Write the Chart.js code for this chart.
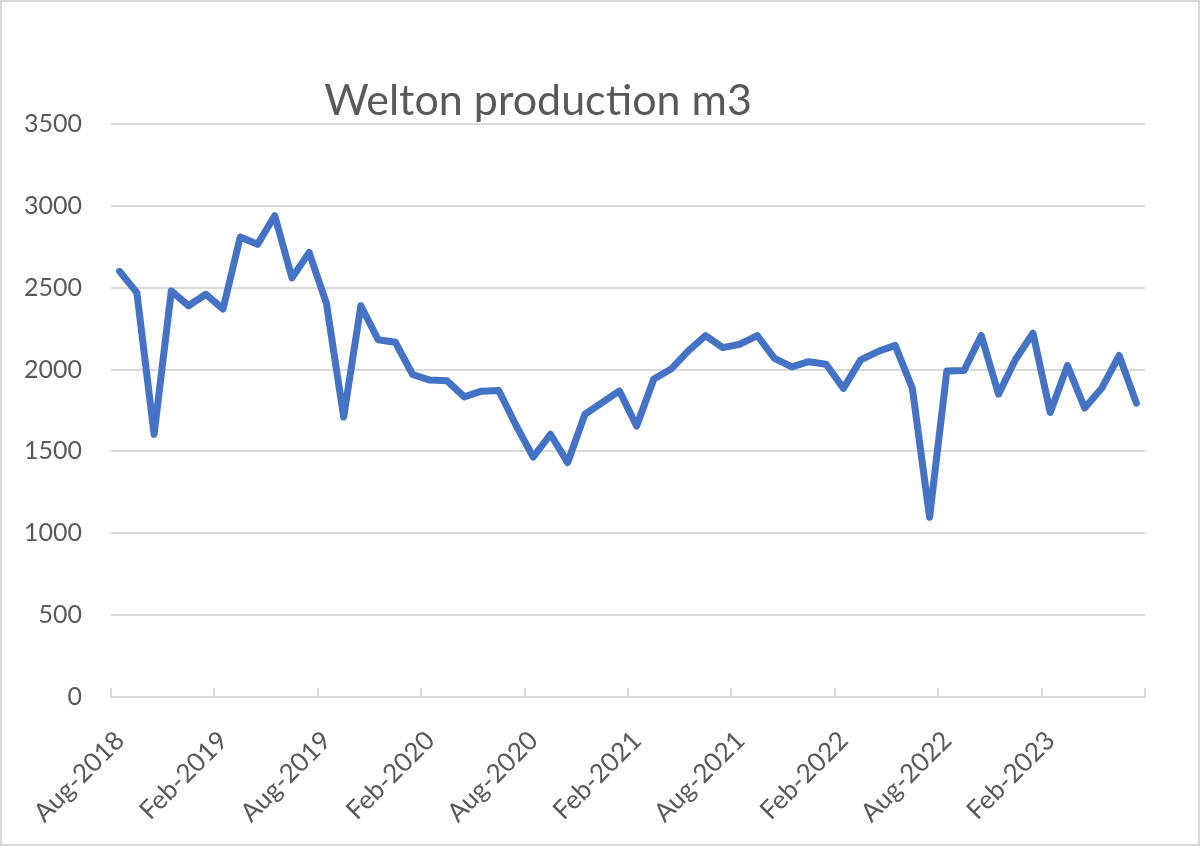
<!DOCTYPE html>
<html>
<head>
<meta charset="utf-8">
<script src="https://cdn.jsdelivr.net/npm/chart.js@4"></script>
<style>
  body { margin: 0; background: #fff; }
  #wrap { position: relative; width: 1200px; height: 846px; }
  #frame { position: absolute; left: 0; top: 0; width: 1200px; height: 846px; box-sizing: border-box; border: 2px solid #d9d9d9; pointer-events: none; }
  canvas { position: absolute; left: 0; top: 0; }
</style>
</head>
<body>
<div id="wrap">
  <canvas id="prodChart" width="1200" height="846"></canvas>
  <div id="frame"></div>
</div>
<script>
const chartTitle = 'Welton production m3';

// monthly production, Aug-2018 .. Jul-2023
const production = [
  2600, 2470, 1605, 2480, 2390, 2460, 2370, 2810, 2765, 2940,
  2560, 2715, 2405, 1710, 2390, 2182, 2167, 1970, 1936, 1931,
  1833, 1868, 1872, 1660, 1465, 1605, 1432, 1727, 1798, 1870,
  1655, 1942, 2003, 2114, 2208, 2134, 2155, 2208, 2068, 2017,
  2048, 2032, 1885, 2059, 2110, 2148, 1886, 1098, 1991, 1995,
  2208, 1850, 2065, 2222, 1738, 2024, 1765, 1888, 2086, 1795
];

// labels every 6 months on the date axis
const xTickLabels = ['Aug-2018', 'Feb-2019', 'Aug-2019', 'Feb-2020', 'Aug-2020',
  'Feb-2021', 'Aug-2021', 'Feb-2022', 'Aug-2022', 'Feb-2023', ''];
const yTicks = [0, 500, 1000, 1500, 2000, 2500, 3000, 3500];

const monthNames = ['Jan','Feb','Mar','Apr','May','Jun','Jul','Aug','Sep','Oct','Nov','Dec'];
let months = [];
for (let i = 0; i < production.length; i++) {
  let m = (7 + i) % 12;
  let y = 2018 + Math.floor((7 + i) / 12);
  months.push(monthNames[m] + '-' + y);
}

// point sits in the middle of its month slot
const points = production.map((v, i) => ({ x: i + 0.5, y: v }));

const textColor = '#595959';
const gridColor = '#d9d9d9';

// Excel style title, placed a bit left of centre
const titlePlugin = {
  id: 'titleAt',
  afterDraw(chart) {
    const ctx = chart.ctx;
    ctx.save();
    ctx.font = '43px Lato';
    ctx.fillStyle = textColor;
    ctx.textAlign = 'center';
    ctx.textBaseline = 'middle';
    ctx.fillText(chartTitle, 538, 101);
    ctx.restore();
  }
};

// tick marks pointing up into the plot, like the original
const innerTicks = {
  id: 'innerTicks',
  afterDraw(chart) {
    const xs = chart.scales.x;
    const ctx = chart.ctx;
    const base = chart.chartArea.bottom;
    ctx.save();
    ctx.strokeStyle = gridColor;
    ctx.lineWidth = 2;
    ctx.beginPath();
    xs.ticks.forEach(t => {
      const px = Math.round(xs.getPixelForValue(t.value));
      ctx.moveTo(px, base);
      ctx.lineTo(px, base - 9);
    });
    ctx.stroke();
    ctx.restore();
  }
};

const ctx = document.getElementById('prodChart').getContext('2d');
let chart = new Chart(ctx, {
  type: 'line',
  data: {
    labels: months,
    datasets: [{
      label: chartTitle,
      data: points,
      borderColor: '#4472C4',
      borderWidth: 7,
      borderJoinStyle: 'round',
      borderCapStyle: 'round',
      pointRadius: 0,
      tension: 0,
      fill: false
    }]
  },
  options: {
    responsive: false,
    animation: false,
    layout: { padding: { top: 124, right: 55, left: 0, bottom: 0 } },
    plugins: {
      legend: { display: false },
      title: { display: false },
      tooltip: { enabled: false }
    },
    scales: {
      x: {
        type: 'linear',
        min: 0,
        max: 60,
        afterBuildTicks: (scale) => {
          scale.ticks = xTickLabels.map((l, i) => ({ value: i * 6 }));
        },
        afterFit: (scale) => {
          scale.height = 846 - 697;
          scale.paddingLeft = 0;
          scale.paddingRight = 0;
        },
        grid: { display: false },
        border: { display: true, color: gridColor, width: 2 },
        ticks: {
          color: textColor,
          font: { family: 'Lato', size: 26 },
          minRotation: 45,
          maxRotation: 45,
          autoSkip: false,
          padding: 20,
          labelOffset: 9,
          callback: (v) => xTickLabels[v / 6]
        }
      },
      y: {
        min: 0,
        max: 3500,
        afterBuildTicks: (scale) => {
          scale.ticks = yTicks.map(v => ({ value: v }));
        },
        afterFit: (scale) => { scale.width = 111; },
        grid: { color: gridColor, lineWidth: 2, drawTicks: false },
        border: { display: false },
        ticks: {
          color: textColor,
          font: { family: 'Lato', size: 25 },
          padding: 29,
          callback: (v) => String(v)
        }
      }
    }
  },
  plugins: [titlePlugin, innerTicks]
});
</script>
</body>
</html>
